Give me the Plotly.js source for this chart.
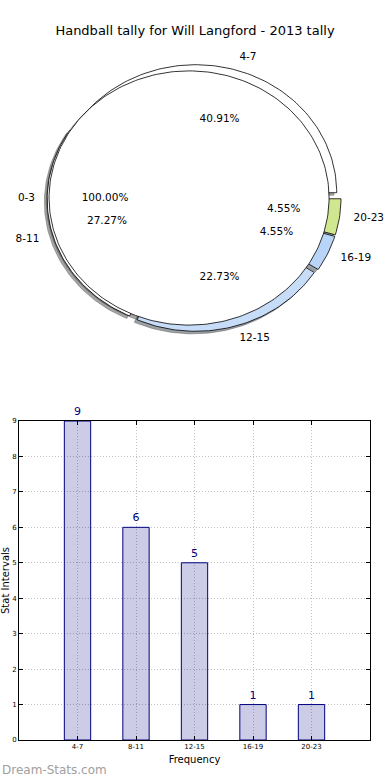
<!DOCTYPE html>
<html><head><meta charset="utf-8">
<script src="https://cdn.plot.ly/plotly-3.0.1.min.js"></script>
<style>html,body{margin:0;padding:0;background:#fff}#chart{width:390px;height:780px}</style>
</head><body><div id="chart"></div>
<script>
// ---- data ----
const chartTitle = 'Handball tally for Will Langford - 2013 tally';
const categories = ['4-7', '8-11', '12-15', '16-19', '20-23'];
const counts = [9, 6, 5, 1, 1];
const coverLabel = '0-3';
const coverValue = 1;
const xTitle = 'Frequency';
const yTitle = 'Stat Intervals';
const watermark = 'Dream-Stats.com';

// ---- styles ----
const sliceColors = ['#ffffff', '#ffffff', '#c6dcf7', '#b8d5f8', '#d1e78f'];
const FONT = 'DejaVu Sans, sans-serif';
const explode = 0.043;
const pie1 = {cx: 0, cy: 0, r: 1};
const pie2 = {cx: -0.035, cy: 0, r: 0.993};
const shadowOff = 0.02;

function wedge(cx, cy, r, a0, a1) {
  const xs = [cx], ys = [cy];
  const n = Math.max(8, Math.ceil((a1 - a0) / 1.5));
  for (let i = 0; i <= n; i++) {
    const a = (a0 + (a1 - a0) * i / n) * Math.PI / 180;
    xs.push(cx + r * Math.cos(a)); ys.push(cy + r * Math.sin(a));
  }
  xs.push(cx); ys.push(cy);
  return {xs, ys};
}
function shade(hex) {
  const v = parseInt(hex.slice(1), 16);
  const r = Math.round(((v >> 16) & 255) * 0.3), g = Math.round(((v >> 8) & 255) * 0.3), b = Math.round((v & 255) * 0.3);
  return `rgba(${r},${g},${b},0.5)`;
}

const total = counts.reduce((a, b) => a + b, 0);
const shadowTraces = [], wedgeTraces = [];
const lblX = [], lblY = [], lblT = [], lblPos = [];
const pctX = [], pctY = [], pctT = [];
let start = 0;
counts.forEach((v, i) => {
  const span = v / total * 360;
  const mid = (start + span / 2) * Math.PI / 180;
  const cx = pie1.cx + explode * Math.cos(mid), cy = pie1.cy + explode * Math.sin(mid);
  const w = wedge(cx, cy, pie1.r, start, start + span);
  shadowTraces.push({type: 'scatter', mode: 'lines', x: w.xs.map(x => x - shadowOff), y: w.ys.map(y => y - shadowOff),
    fill: 'toself', fillcolor: shade(sliceColors[i]), line: {width: 0.8, color: shade(sliceColors[i])},
    xaxis: 'x2', yaxis: 'y2', hoverinfo: 'skip'});
  wedgeTraces.push({type: 'scatter', mode: 'lines', x: w.xs, y: w.ys, fill: 'toself',
    fillcolor: sliceColors[i], line: {width: 0.8, color: '#000'}, xaxis: 'x2', yaxis: 'y2', hoverinfo: 'skip'});
  lblX.push(cx + 1.1 * pie1.r * Math.cos(mid)); lblY.push(cy + 1.1 * pie1.r * Math.sin(mid));
  lblT.push(categories[i]); lblPos.push(Math.cos(mid) > 0 ? 'middle right' : 'middle left');
  pctX.push(cx + 0.6 * pie1.r * Math.cos(mid)); pctY.push(cy + 0.6 * pie1.r * Math.sin(mid));
  pctT.push((v / total * 100).toFixed(2) + '%');
  start += span;
});
// cover pie (single 100% wedge)
const cw = wedge(pie2.cx, pie2.cy, pie2.r, 0, 360 * coverValue / coverValue);
shadowTraces.push({type: 'scatter', mode: 'lines', x: cw.xs.map(x => x - shadowOff), y: cw.ys.map(y => y - shadowOff),
  fill: 'toself', fillcolor: shade('#ffffff'), line: {width: 0.8, color: shade('#ffffff')}, xaxis: 'x2', yaxis: 'y2', hoverinfo: 'skip'});
const coverTrace = {type: 'scatter', mode: 'lines', x: cw.xs.slice(1, -1), y: cw.ys.slice(1, -1), fill: 'toself',
  fillcolor: '#ffffff', line: {width: 0.8, color: '#000'}, xaxis: 'x2', yaxis: 'y2', hoverinfo: 'skip'};
const cMid = Math.PI;
lblX.push(pie2.cx + 1.1 * pie2.r * Math.cos(cMid)); lblY.push(pie2.cy + 1.1 * pie2.r * Math.sin(cMid));
lblT.push(coverLabel); lblPos.push('middle left');
pctX.push(pie2.cx + 0.6 * pie2.r * Math.cos(cMid)); pctY.push(pie2.cy + 0.6 * pie2.r * Math.sin(cMid));
pctT.push((coverValue / coverValue * 100).toFixed(2) + '%');

const labelTrace = {type: 'scatter', mode: 'text', x: lblX, y: lblY, text: lblT, textposition: lblPos,
  textfont: {family: FONT, size: 10.5, color: '#000'}, xaxis: 'x2', yaxis: 'y2', hoverinfo: 'skip', cliponaxis: false};
const pctTrace = {type: 'scatter', mode: 'text', x: pctX, y: pctY, text: pctT, textposition: 'middle center',
  textfont: {family: FONT, size: 10.5, color: '#000'}, xaxis: 'x2', yaxis: 'y2', hoverinfo: 'skip', cliponaxis: false};

const barTrace = {type: 'bar', x: categories, y: counts, width: 0.45,
  marker: {color: 'rgba(0,0,128,0.2)', line: {color: '#000080', width: 1}},
  text: counts.map(String), textposition: 'outside', textfont: {family: FONT, size: 11, color: '#000080'},
  cliponaxis: false, hoverinfo: 'skip', xaxis: 'x', yaxis: 'y'};

const W = 390, H = 780;
const axCommon = {showline: true, linecolor: '#000', linewidth: 1, mirror: 'ticks', ticks: 'inside', ticklen: 4,
  tickcolor: '#000', showgrid: true, gridcolor: '#c0c0c0', griddash: '1px,2px', gridwidth: 1, zeroline: false,
  tickfont: {family: FONT, size: 7, color: '#000'}};
const layout = {
  width: W, height: H, margin: {l: 0, r: 0, t: 0, b: 0}, paper_bgcolor: '#fff', plot_bgcolor: 'rgba(0,0,0,0)',
  showlegend: false, font: {family: FONT},
  title: {text: chartTitle, font: {family: FONT, size: 13, color: '#000'}, x: 0.5, xanchor: 'center', y: 1 - 30 / H, yanchor: 'middle'},
  xaxis: Object.assign({}, axCommon, {domain: [19 / W, 370 / W], range: [-1, 5], type: 'category', anchor: 'y',
    title: {text: xTitle, font: {family: FONT, size: 10, color: '#000'}, standoff: 5}}),
  yaxis: Object.assign({}, axCommon, {domain: [(H - 740) / H, (H - 421) / H], range: [0, 9], dtick: 1, anchor: 'x',
    title: {text: yTitle, font: {family: FONT, size: 10, color: '#000'}, standoff: 0}}),
  xaxis2: {domain: [0, 1], range: [-194 / 141, 196 / 141], visible: false, anchor: 'y2', fixedrange: true},
  yaxis2: {domain: [0.5, 1], range: [-(390 - 198) / 128, 198 / 128], visible: false, anchor: 'x2', fixedrange: true},
  annotations: [{text: watermark, xref: 'paper', yref: 'paper', x: 0, y: (H - 770) / H, xanchor: 'left', yanchor: 'middle',
    showarrow: false, font: {family: FONT, size: 12, color: '#a0a0a0'}}]
};
Plotly.newPlot('chart', [...shadowTraces, ...wedgeTraces, coverTrace, labelTrace, pctTrace, barTrace], layout,
  {staticPlot: true, displayModeBar: false});
</script></body></html>
